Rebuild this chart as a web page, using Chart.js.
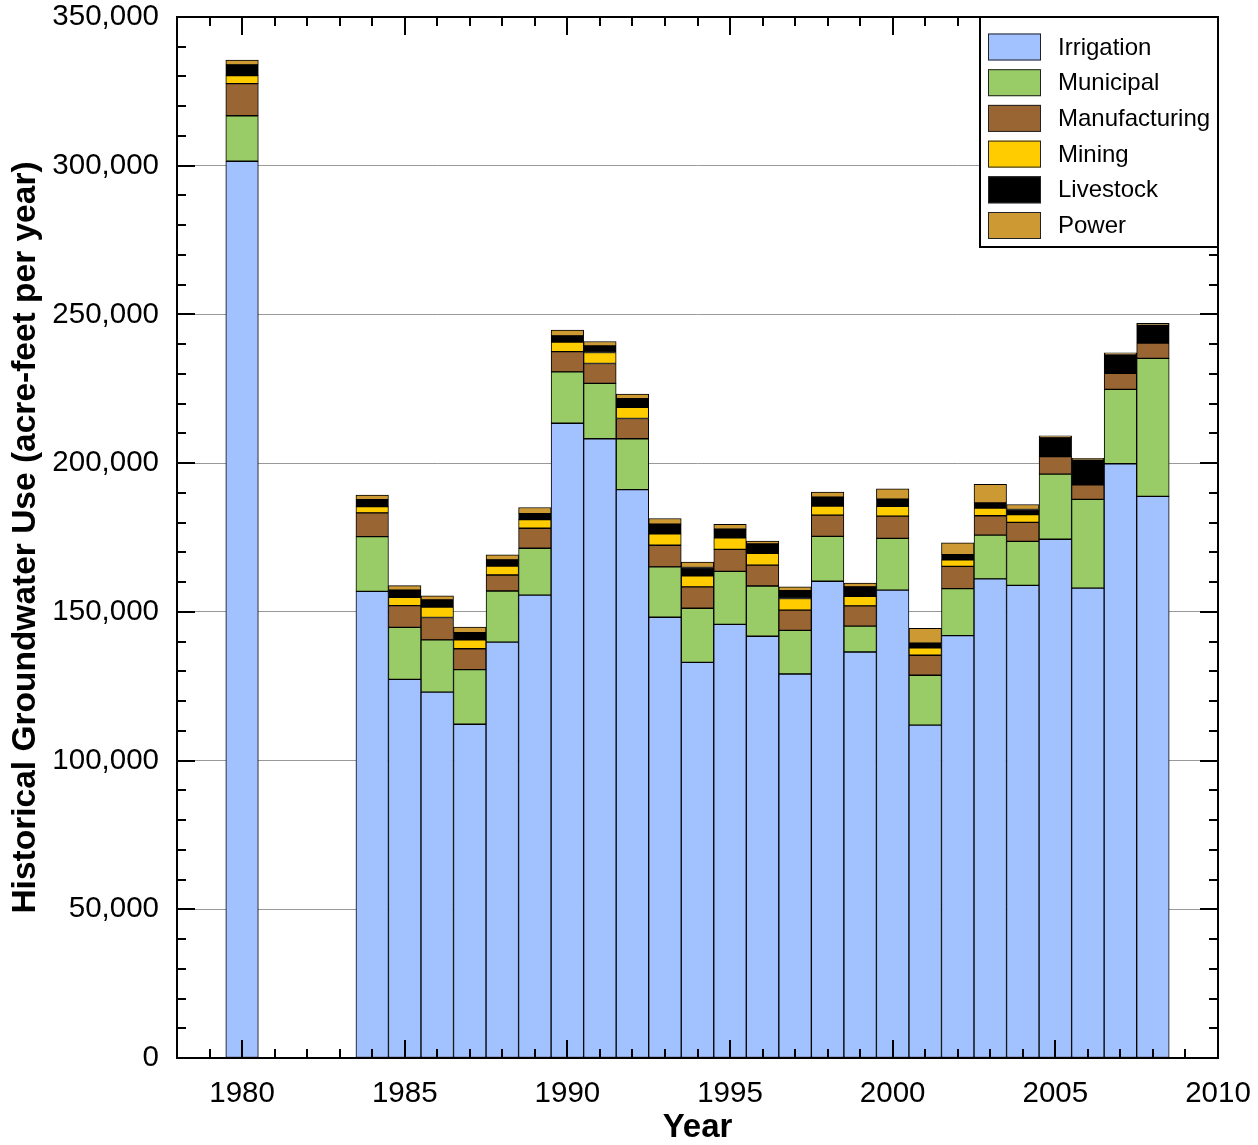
<!DOCTYPE html>
<html>
<head>
<meta charset="utf-8">
<title>Historical Groundwater Use</title>
<script src="https://cdn.jsdelivr.net/npm/chart.js@4.4.1/dist/chart.umd.min.js"></script>
<style>
  html, body { margin: 0; padding: 0; background: #fff; }
  #wrap { width: 1258px; height: 1145px; }
</style>
</head>
<body>
<div id="wrap"><canvas id="chart" width="1258" height="1145"></canvas></div>
<script>
// Groundwater use by sector, acre-feet per year
const years = [1980, 1984, 1985, 1986, 1987, 1988, 1989, 1990, 1991, 1992, 1993, 1994, 1995,
               1996, 1997, 1998, 1999, 2000, 2001, 2002, 2003, 2004, 2005, 2006, 2007, 2008];

const irrigation = [301500, 156900, 127300, 123000, 112200, 139800, 155600, 213400, 208200, 191100,
                    148200, 133000, 145800, 141800, 129100, 160300, 136500, 157300, 111900, 142000,
                    161100, 158900, 174400, 158000, 199800, 188800];
const municipal = [15300, 18400, 17500, 17600, 18400, 17200, 15800, 17300, 18600, 17100,
                   16900, 18200, 17800, 16900, 14700, 15100, 8700, 17400, 16800, 15800,
                   14700, 14800, 21900, 29800, 25000, 46400];
const manufacturing = [10800, 8000, 7300, 7500, 7000, 5400, 6700, 6800, 6700, 6800,
                       7300, 7200, 7400, 7000, 6800, 7100, 6800, 7500, 6700, 7500,
                       6500, 6400, 5900, 4900, 5400, 5200];
const mining = [2700, 2100, 2800, 3500, 3000, 3000, 2900, 3200, 3700, 3800,
                3800, 3700, 3900, 4000, 3900, 3100, 3200, 3300, 2500, 2200,
                2600, 2600, 0, 0, 0, 0];
const livestock = [3600, 2300, 2400, 2400, 2400, 2100, 2000, 2100, 2200, 2900,
                   3300, 2800, 2900, 3100, 2600, 3000, 3200, 2400, 1600, 1700,
                   1700, 1700, 6300, 8400, 6200, 6000];
const power = [1600, 1600, 1500, 1400, 1900, 1700, 2100, 1900, 1500, 1500,
               1900, 1800, 1600, 1000, 1300, 1700, 1300, 3500, 5000, 4000,
               6300, 1700, 700, 500, 700, 600];

const seriesNames = ['Irrigation', 'Municipal', 'Manufacturing', 'Mining', 'Livestock', 'Power'];
const seriesValues = [irrigation, municipal, manufacturing, mining, livestock, power];
const seriesColors = ['#a2c1ff', '#99cc66', '#996633', '#ffcc00', '#000000', '#cc9933'];

const xTickLabels = [1980, 1985, 1990, 1995, 2000, 2005, 2010];
const yTickLabels = [0, 50000, 100000, 150000, 200000, 250000, 300000, 350000];

const FONT = '"Liberation Sans", Arial, Helvetica, sans-serif';

// Inward tick marks on all four sides plus the black frame
const frameTicks = {
  id: 'frameTicks',
  afterDatasetsDraw(chart) {
    const { ctx, chartArea: a, scales: { x, y } } = chart;
    ctx.save();
    ctx.strokeStyle = '#000';
    ctx.lineWidth = 2;
    ctx.beginPath();
    for (let v = Math.ceil(x.min); v <= x.max; v++) {
      const px = Math.round(x.getPixelForValue(v));
      const len = v % 5 === 0 ? 18 : 9;
      ctx.moveTo(px, a.bottom); ctx.lineTo(px, a.bottom - len);
      ctx.moveTo(px, a.top); ctx.lineTo(px, a.top + len);
    }
    for (let v = y.min; v <= y.max; v += 10000) {
      const py = Math.round(y.getPixelForValue(v));
      const len = v % 50000 === 0 ? 18 : 9;
      ctx.moveTo(a.left, py); ctx.lineTo(a.left + len, py);
      ctx.moveTo(a.right, py); ctx.lineTo(a.right - len, py);
    }
    ctx.stroke();
    ctx.strokeRect(a.left, a.top, a.right - a.left, a.bottom - a.top);
    ctx.restore();
  }
};

// Boxed legend in the upper right corner of the plot
const boxLegend = {
  id: 'boxLegend',
  afterDraw(chart) {
    const { ctx, chartArea: a } = chart;
    const sets = chart.data.datasets;
    const boxW = 238, boxH = 230;
    const bx = a.right - boxW, by = a.top;
    ctx.save();
    ctx.fillStyle = '#fff';
    ctx.fillRect(bx, by, boxW, boxH);
    ctx.strokeStyle = '#000';
    ctx.lineWidth = 2;
    ctx.strokeRect(bx, by, boxW, boxH);
    ctx.font = '24px ' + FONT;
    ctx.textBaseline = 'middle';
    ctx.textAlign = 'left';
    sets.forEach((ds, i) => {
      const cy = by + 30 + i * 35.7;
      ctx.fillStyle = ds.backgroundColor;
      ctx.fillRect(bx + 8, cy - 13.5, 53, 27);
      ctx.lineWidth = 1;
      ctx.strokeStyle = '#222';
      ctx.strokeRect(bx + 8.5, cy - 13, 52, 26);
      ctx.fillStyle = '#000';
      ctx.fillText(ds.label, bx + 78, cy + 1);
    });
    ctx.restore();
  }
};

const datasets = seriesNames.map((name, i) => ({
  label: name,
  data: years.map((yr, j) => ({ x: yr, y: seriesValues[i][j] })),
  backgroundColor: seriesColors[i],
  borderColor: '#000',
  borderWidth: 1,
  borderSkipped: false,
  barPercentage: 1.0,
  categoryPercentage: 1.0
}));

new Chart(document.getElementById('chart'), {
  type: 'bar',
  data: { datasets },
  options: {
    responsive: false,
    animation: false,
    events: [],
    layout: { padding: { left: 0, top: 17, right: 40, bottom: 0 } },
    plugins: { legend: { display: false }, tooltip: { enabled: false } },
    scales: {
      x: {
        type: 'linear',
        stacked: true,
        offset: false,
        min: 1978,
        max: 2010,
        afterBuildTicks(scale) { scale.ticks = xTickLabels.map(v => ({ value: v })); },
        afterFit(scale) {
          scale.height = 87;
          scale.paddingLeft = 0;
          scale.paddingRight = 0;
        },
        grid: { display: false, drawTicks: false },
        border: { display: false },
        ticks: {
          autoSkip: false,
          maxRotation: 0,
          padding: 18,
          color: '#000',
          font: { family: FONT, size: 29.5 },
          callback: v => String(v)
        },
        title: {
          display: true,
          text: 'Year',
          color: '#000',
          font: { family: FONT, size: 33, weight: 'bold', lineHeight: 1 },
          padding: { top: 0, bottom: 1 }
        }
      },
      y: {
        stacked: true,
        min: 0,
        max: 350000,
        afterBuildTicks(scale) { scale.ticks = yTickLabels.map(v => ({ value: v })); },
        afterFit(scale) {
          scale.width = 177;
          scale.paddingTop = 0;
          scale.paddingBottom = 0;
        },
        grid: {
          drawTicks: false,
          color: ctx => (ctx.tick && (ctx.tick.value === 0 || ctx.tick.value === 350000)) ? 'rgba(0,0,0,0)' : '#999',
          lineWidth: 1
        },
        border: { display: false },
        ticks: {
          padding: 18,
          color: '#000',
          font: { family: FONT, size: 29.5 },
          callback: v => Number(v).toLocaleString('en-US')
        },
        title: {
          display: true,
          text: 'Historical Groundwater Use (acre-feet per year)',
          color: '#000',
          font: { family: FONT, size: 33.5, weight: 'bold', lineHeight: 1 },
          padding: { top: 9, bottom: 0 }
        }
      }
    }
  },
  plugins: [frameTicks, boxLegend]
});
</script>
</body>
</html>
